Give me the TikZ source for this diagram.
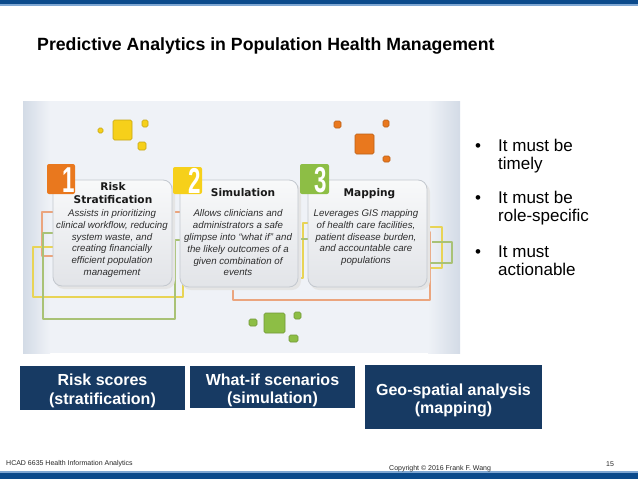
\documentclass[tikz,border=0pt]{standalone}
\usepackage{fontspec}
\setmainfont{Liberation Sans}
\newfontfamily\cardfont{DejaVu Sans}

\definecolor{topbar}{HTML}{0B4A8B}
\definecolor{barline}{HTML}{7FA7D3}
\definecolor{navy}{HTML}{173A63}
\definecolor{imgbg}{HTML}{EFF2F7}
\definecolor{imgedge}{HTML}{D3DBE6}
\definecolor{cardtop}{HTML}{F8F9FA}
\definecolor{cardbot}{HTML}{E2E4E8}
\definecolor{cardedge}{HTML}{C3C8CF}
\definecolor{tagorange}{HTML}{E9781E}
\definecolor{tagyellow}{HTML}{F6D01A}
\definecolor{taggreen}{HTML}{8DBE45}
\definecolor{wireorange}{HTML}{EBA57E}
\definecolor{wireyellow}{HTML}{E8D456}
\definecolor{wiregreen}{HTML}{A9C276}
\definecolor{bodytext}{HTML}{2E2E2E}

\tikzset{
  card/.style={draw=cardedge, line width=0.8pt, rounded corners=9pt, top color=cardtop, bottom color=cardbot},
  cardshadow/.style={fill=black!10, rounded corners=9pt},
  tag/.style={rounded corners=2pt},
  digit/.style={anchor=center, inner sep=0pt, text=white, font=\fontsize{36}{36}\selectfont\bfseries},
  cardtitle/.style={anchor=center, inner sep=0pt, align=center, text=black!90, font=\cardfont\fontsize{10.6}{13}\selectfont\bfseries},
  cardtext/.style={anchor=center, inner sep=0pt, align=center, text=bodytext, font=\fontsize{9.7}{11.8}\selectfont\itshape},
  wire/.style={line width=1.3pt},
  tile/.style={rounded corners=1.5pt, line width=0.6pt},
  boxtext/.style={anchor=center, text=white, inner sep=0pt, align=center, font=\fontsize{16}{18.5}\selectfont\bfseries},
  bulletline/.style={anchor=base west, inner sep=0pt, font=\fontsize{17}{19}\selectfont},
  footer/.style={anchor=base west, inner sep=0pt, text=black!85, font=\fontsize{7}{8}\selectfont},
}

\begin{document}
\begin{tikzpicture}[x=1pt, y=-1pt, line join=round]

  %% ════ 顶部 / 底部色条 ════
  \fill[topbar] (0,0) rectangle (638,4.3);
  \fill[barline] (0,4.3) rectangle (638,5.6);
  \fill[barline] (0,471.4) rectangle (638,472.6);
  \fill[topbar] (0,472.6) rectangle (638,479);

  %% ════ 标题 ════
  \node[anchor=base west, inner sep=0pt, font=\fontsize{17.7}{20}\selectfont\bfseries] (title) at (37,50.7)
    {Predictive Analytics in Population Health Management};

  %% ════ 插图底色 ════
  \fill[imgbg] (23,101) rectangle (460,353);
  \shade[left color=imgedge, right color=imgbg] (23,101) rectangle (50,353);
  \shade[left color=imgbg, right color=imgedge] (428,101) rectangle (460,353);

  %% ════ 连线（在卡片下面）════
  \draw[wire, wireorange] (55,212) -- (42,212) -- (42,256) -- (66,256);
  \draw[wire, wireyellow] (58,247) -- (33,247) -- (33,297) -- (183,297) -- (183,278) -- (303,278) -- (303,223) -- (311,223);
  \draw[wire, wiregreen] (53,233) -- (43,233) -- (43,319) -- (175,319) -- (175,240) -- (184,240);
  \draw[wire, wireorange] (170,212) -- (184,212);
  \draw[wire, wiregreen] (310,239) -- (299,239) -- (299,246);
  \draw[wire, wireyellow] (425,227) -- (442,227) -- (442,268) -- (408,268);
  \draw[wire, wireorange] (420,232) -- (430,232) -- (430,300) -- (233,300) -- (233,287);
  \draw[wire, wiregreen] (432,242) -- (452,242) -- (452,263) -- (420,263);

  %% ════ 三张卡片 ════
  \fill[cardshadow] (55,183) rectangle (175,289);
  \fill[cardshadow] (182,183) rectangle (301,290);
  \fill[cardshadow] (310,183) rectangle (430,290);
  \path[card] (53,180) rectangle (172,286);
  \path[card] (180,180) rectangle (298,287);
  \path[card] (308,180) rectangle (427,287);

  %% ════ 编号方块 ════
  \fill[tag, tagorange] (47,164) rectangle (75,194);
  \fill[tag, tagyellow] (173,167) rectangle (202,194);
  \fill[tag, taggreen] (300,164) rectangle (329,194);
  \node[digit] (n1) at (69,180) {\scalebox{0.62}[1]{1}};
  \node[digit] (n2) at (195,181) {\scalebox{0.62}[1]{2}};
  \node[digit] (n3) at (321,180) {\scalebox{0.62}[1]{3}};

  %% ════ 卡片文字 ════
  \node[cardtitle] (t1) at (113,193.5) {Risk\\Stratification};
  \node[cardtitle] (t2) at (243,192.5) {Simulation};
  \node[cardtitle] (t3) at (369.5,193.5) {Mapping};
  \node[cardtext] (d1) at (112,243.5) {Assists in prioritizing\\clinical workflow, reducing\\system waste, and\\creating financially\\efficient population\\management};
  \node[cardtext] (d2) at (238,243) {Allows clinicians and\\administrators a safe\\glimpse into “what if” and\\the likely outcomes of a\\given combination of\\events};
  \node[cardtext] (d3) at (366,237.5) {Leverages GIS mapping\\of health care facilities,\\patient disease burden,\\and accountable care\\populations};

  %% ════ 小方块装饰 ════
  \draw[tile, fill=tagyellow, draw=tagyellow!80!black] (113,120) rectangle (132,140);
  \draw[tile, fill=tagyellow, draw=tagyellow!80!black] (98,128) rectangle (103,133);
  \draw[tile, fill=tagyellow, draw=tagyellow!80!black] (142,120) rectangle (148,127);
  \draw[tile, fill=tagyellow, draw=tagyellow!80!black] (138,142) rectangle (146,150);
  \draw[tile, fill=tagorange, draw=tagorange!80!black] (355,134) rectangle (374,154);
  \draw[tile, fill=tagorange, draw=tagorange!80!black] (334,121) rectangle (341,128);
  \draw[tile, fill=tagorange, draw=tagorange!80!black] (383,120) rectangle (389,127);
  \draw[tile, fill=tagorange, draw=tagorange!80!black] (383,156) rectangle (390,162);
  \draw[tile, fill=taggreen, draw=taggreen!80!black] (264,313) rectangle (285,333);
  \draw[tile, fill=taggreen, draw=taggreen!80!black] (249,319) rectangle (257,326);
  \draw[tile, fill=taggreen, draw=taggreen!80!black] (294,312) rectangle (301,319);
  \draw[tile, fill=taggreen, draw=taggreen!80!black] (289,335) rectangle (298,342);

  %% ════ 右侧要点 ════
  \node[bulletline] (p1) at (475,151) {•};
  \node[bulletline] (p1a) at (498,151) {It must be};
  \node[bulletline] (p1b) at (498,169.5) {timely};
  \node[bulletline] (p2) at (475,203) {•};
  \node[bulletline] (p2a) at (498,203) {It must be};
  \node[bulletline] (p2b) at (498,221.5) {role-specific};
  \node[bulletline] (p3) at (475,257) {•};
  \node[bulletline] (p3a) at (498,257) {It must};
  \node[bulletline] (p3b) at (498,275.5) {actionable};

  %% ════ 底部深蓝框 ════
  \fill[navy] (20,366) rectangle (185,410);
  \fill[navy] (190,366) rectangle (355,408);
  \fill[navy] (365,365) rectangle (542,429);
  \node[boxtext] (risk) at (102.5,391) {Risk scores\\(stratification)};
  \node[boxtext] (whatif) at (272.5,390.5) {What-if scenarios\\(simulation)};
  \node[boxtext] (geo) at (453.5,400.5) {Geo-spatial analysis\\(mapping)};

  %% ════ 页脚 ════
  \node[footer] (course) at (6,465) {HCAD 6635 Health Information Analytics};
  \node[footer] (copy) at (389,470) {Copyright © 2016 Frank F. Wang};
  \node[footer] (page) at (606,466) {15};

  % 钉死画布
  \pgfresetboundingbox
  \path[use as bounding box] (0,0) rectangle (638,479);
\end{tikzpicture}
\end{document}
